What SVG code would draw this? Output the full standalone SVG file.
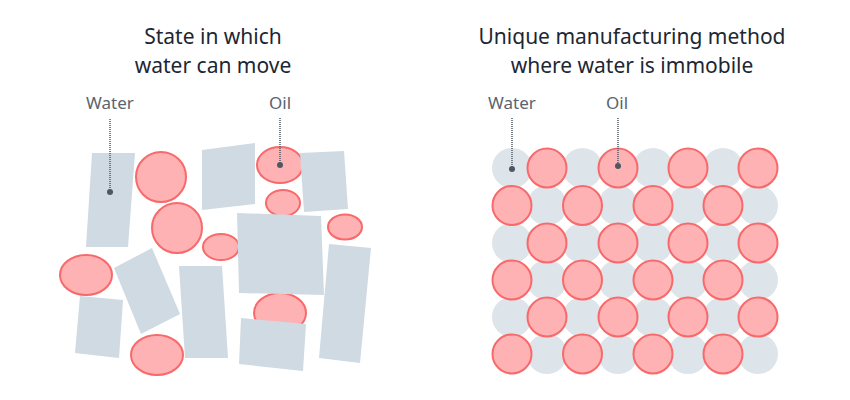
<svg xmlns="http://www.w3.org/2000/svg" width="850" height="400" viewBox="0 0 850 400">
<style>
.title{font-family:"Noto Sans","Open Sans",sans-serif;font-size:21px;fill:#1c2733;text-anchor:middle}
.lbl{font-family:"Noto Sans","Open Sans",sans-serif;font-size:17px;fill:#5a646e;text-anchor:middle}
.oil{fill:#ffb2b3;stroke:#f8696b;stroke-width:2}
.wat{fill:#cfdae3}
.wc{fill:#dde4ea}
.lead{stroke:#4d5863;stroke-width:1.5;stroke-dasharray:1 1;fill:none}
.dot{fill:#4d5863}
</style>
<rect width="850" height="400" fill="#ffffff"/>
<text class="title" x="213" y="44">State in which</text>
<text class="title" x="213" y="73">water can move</text>
<text class="title" x="632" y="44">Unique manufacturing method</text>
<text class="title" x="632" y="73">where water is immobile</text>
<g id="left">
<g id="oil-left">
<circle class="oil" cx="161" cy="177" r="25"/>
<circle class="oil" cx="177" cy="228" r="25"/>
<ellipse class="oil" cx="280" cy="165" rx="23" ry="18"/>
<ellipse class="oil" cx="283" cy="203" rx="17" ry="13"/>
<ellipse class="oil" cx="345" cy="227" rx="17" ry="12.5"/>
<ellipse class="oil" cx="221" cy="247" rx="18" ry="13"/>
<ellipse class="oil" cx="86" cy="275" rx="26" ry="20"/>
<ellipse class="oil" cx="157" cy="355" rx="26" ry="20"/>
<ellipse class="oil" cx="280" cy="313" rx="26" ry="20"/>
</g>
<g id="water-left">
<polygon class="wat" points="92,153 135,153 128,247 86,247"/>
<polygon class="wat" points="202,150 255,143 255,204 202,210"/>
<polygon class="wat" points="300,153 344,151 348,209 304,212"/>
<polygon class="wat" points="237,213 321,216 324,295 239,293"/>
<polygon class="wat" points="114,268 152,248 180,314 141,334"/>
<polygon class="wat" points="80,296 123,300 119,358 75,353"/>
<polygon class="wat" points="179,266 222,266 228,358 185,358"/>
<polygon class="wat" points="241,318 306,324 303,371 239,364"/>
<polygon class="wat" points="329,244 371,248 360,363 319,358"/>
</g>
</g>
<g id="right">
<g id="water-right">
<circle class="wc" cx="512" cy="168" r="20"/><circle class="wc" cx="582.5" cy="168" r="20"/><circle class="wc" cx="653" cy="168" r="20"/><circle class="wc" cx="723" cy="168" r="20"/>
<circle class="wc" cx="547" cy="205.5" r="20"/><circle class="wc" cx="618" cy="205.5" r="20"/><circle class="wc" cx="688" cy="205.5" r="20"/><circle class="wc" cx="758" cy="205.5" r="20"/>
<circle class="wc" cx="512" cy="243" r="20"/><circle class="wc" cx="582.5" cy="243" r="20"/><circle class="wc" cx="653" cy="243" r="20"/><circle class="wc" cx="723" cy="243" r="20"/>
<circle class="wc" cx="547" cy="280" r="20"/><circle class="wc" cx="618" cy="280" r="20"/><circle class="wc" cx="688" cy="280" r="20"/><circle class="wc" cx="758" cy="280" r="20"/>
<circle class="wc" cx="512" cy="317" r="20"/><circle class="wc" cx="582.5" cy="317" r="20"/><circle class="wc" cx="653" cy="317" r="20"/><circle class="wc" cx="723" cy="317" r="20"/>
<circle class="wc" cx="547" cy="354" r="20"/><circle class="wc" cx="618" cy="354" r="20"/><circle class="wc" cx="688" cy="354" r="20"/><circle class="wc" cx="758" cy="354" r="20"/>
</g>
<g id="oil-right">
<circle class="oil" cx="547" cy="168" r="19.5"/><circle class="oil" cx="618" cy="168" r="19.5"/><circle class="oil" cx="688" cy="168" r="19.5"/><circle class="oil" cx="758" cy="168" r="19.5"/>
<circle class="oil" cx="512" cy="205.5" r="19.5"/><circle class="oil" cx="582.5" cy="205.5" r="19.5"/><circle class="oil" cx="653" cy="205.5" r="19.5"/><circle class="oil" cx="723" cy="205.5" r="19.5"/>
<circle class="oil" cx="547" cy="243" r="19.5"/><circle class="oil" cx="618" cy="243" r="19.5"/><circle class="oil" cx="688" cy="243" r="19.5"/><circle class="oil" cx="758" cy="243" r="19.5"/>
<circle class="oil" cx="512" cy="280" r="19.5"/><circle class="oil" cx="582.5" cy="280" r="19.5"/><circle class="oil" cx="653" cy="280" r="19.5"/><circle class="oil" cx="723" cy="280" r="19.5"/>
<circle class="oil" cx="547" cy="317" r="19.5"/><circle class="oil" cx="618" cy="317" r="19.5"/><circle class="oil" cx="688" cy="317" r="19.5"/><circle class="oil" cx="758" cy="317" r="19.5"/>
<circle class="oil" cx="512" cy="354" r="19.5"/><circle class="oil" cx="582.5" cy="354" r="19.5"/><circle class="oil" cx="653" cy="354" r="19.5"/><circle class="oil" cx="723" cy="354" r="19.5"/>
</g>
</g>
<g id="labels">
<text class="lbl" x="110" y="109">Water</text>
<text class="lbl" x="280" y="109">Oil</text>
<text class="lbl" x="512" y="109">Water</text>
<text class="lbl" x="617" y="109">Oil</text>
</g>
<g id="connectors">
<line class="lead" x1="110" y1="119" x2="110" y2="192"/><circle class="dot" cx="110" cy="192" r="3"/>
<line class="lead" x1="280" y1="118" x2="280" y2="165"/><circle class="dot" cx="280" cy="165" r="3"/>
<line class="lead" x1="512" y1="118" x2="512" y2="169"/><circle class="dot" cx="512" cy="169" r="3"/>
<line class="lead" x1="618" y1="118" x2="618" y2="166"/><circle class="dot" cx="618" cy="166" r="3"/>
</g>
</svg>
